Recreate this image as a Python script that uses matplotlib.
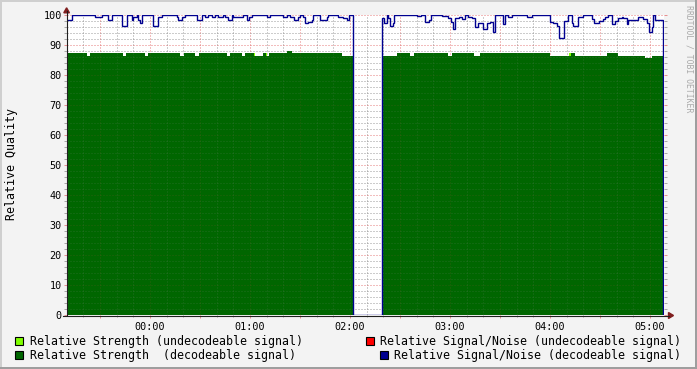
import numpy as np
import matplotlib
matplotlib.use('Agg')
import matplotlib.pyplot as plt
from matplotlib.patches import Rectangle, Polygon
from matplotlib.lines import Line2D

# ---------------- data (time in minutes relative to 00:00) ----------------
snr_t = [-50, -47, -33, -29, -25, -23, -17, -14, -11, -10, -8, -7, -6, -5, 1.5, 5, 7,
         16, 17, 19, 21, 28, 31, 33, 35, 37, 39, 41, 44, 45, 47, 49, 50, 56, 58, 59.5,
         61, 70, 72, 80, 82, 84, 86.5, 89, 90, 92, 93, 95, 97, 98, 102, 106, 107, 113,
         116, 118, 119.5, 122, 139, 140.5, 142, 143, 144, 145.5, 146.5, 160, 162.5, 165,
         167.5, 168.5, 175, 179, 180.5, 181.5, 183, 185.5, 187, 189, 191, 193, 195, 197,
         198, 200, 202, 204, 205.5, 207, 212, 213, 215, 217, 226, 229, 240, 242, 244,
         245.5, 248.5, 251, 253, 254, 257, 260, 265, 266.5, 269.5, 272, 273, 275, 277,
         279, 281, 283, 284, 286, 287, 293, 296, 298, 299.5, 301, 302, 303, 308]
snr_v = [98.5, 100, 99.2, 100, 98.3, 100, 96.4, 100, 98.3, 99.2, 100, 98.3, 97.2, 100, 96.4, 99.2, 100,
         99.2, 98.3, 99.2, 100, 98.3, 100, 99.4, 100, 99.4, 100, 99.4, 100, 99.4, 98.3, 100, 99.4, 100, 98.3, 99.4,
         100, 99.4, 100, 99.4, 100, 99.4, 98.3, 99.4, 100, 99.4, 97.3, 97.8, 98.5, 100, 98.3, 99.2, 100, 99.4,
         99.0, 98.3, 100, 0, 98.9, 97.3, 100, 99.0, 96.2, 97.5, 100, 99.6, 100, 97.7,
         98.5, 100, 99.6, 98.9, 97.7, 95.3, 98.9, 99.2, 98.7, 100, 99.5, 99.0, 95.9, 97.5,
         97.3, 95.5, 97.3, 97.8, 94.2, 100, 97.0, 100, 99.5, 100, 99.5, 100, 97.7, 97.2, 96.5,
         92.2, 98.1, 100, 97.5, 96.2, 99.5, 100, 98.7, 97.2, 98.1, 98.7, 99.5, 100, 97.0,
         98.1, 98.9, 99.5, 98.9, 97.0, 98.5, 99.4, 98.6, 97.5, 94.2, 96.0, 100, 98.5, 0]

str_t = [-50, -38, -36, -16, -14.5, -3, -1, 18, 20.5, 27, 29.5, 46, 48, 55, 57, 62.5, 68,
         69.5, 71.5, 82, 85, 115, 122, 139, 148, 156, 158.5, 179, 181, 194.5, 198, 240,
         252.5, 255, 274, 281, 297, 301, 308]
str_v = [87.3, 86.4, 87.3, 86.4, 87.3, 86.4, 87.3, 86.4, 87.3, 86.4, 87.3, 86.4, 87.3, 86.4,
         87.3, 86.4, 87.3, 86.4, 87.3, 88.1, 87.3, 86.4, 0, 86.4, 87.3, 86.4, 87.3, 86.4,
         87.3, 86.4, 87.3, 86.4, 87.3, 86.4, 87.3, 86.4, 85.6, 86.4, 0]

undec_t = [62, 69, 251.5]
undec_v = [87.3, 87.3, 87.3]
undec_w = 1.0

x_hours = [0, 60, 120, 180, 240, 300]
x_labels = ["00:00", "01:00", "02:00", "03:00", "04:00", "05:00"]
y_ticks = list(range(0, 101, 10))

legend_labels = ["Relative Strength (undecodeable signal)",
                 "Relative Strength  (decodeable signal)",
                 "Relative Signal/Noise (undecodeable signal)",
                 "Relative Signal/Noise (decodeable signal)"]

# ---------------- style ----------------
C_LIME = '#80ff00'
C_GREEN = '#006600'
C_RED = '#ff0000'
C_BLUE = '#000090'
GRID = (0.56, 0.56, 0.56, 0.75)
MGRID = (0.87, 0.31, 0.31, 0.6)
ARROW = (0.5, 0.12, 0.12)
AXISC = (0.12, 0.12, 0.12)
MONO = 'DejaVu Sans Mono'

W, H = 697, 369
fig = plt.figure(figsize=(W / 100, H / 100), dpi=100)
fig.patch.set_facecolor('#f3f3f3')

def fx(x):
    return x / W

def fy(y):
    return 1 - y / H

X0, X1, Y0, Y1 = 67, 664, 15, 315
ax = fig.add_axes([fx(X0), fy(Y1), (X1 - X0) / W, (Y1 - Y0) / H])
ax.set_facecolor('white')
ax.set_xlim(-49.8, 308.4)
ax.set_ylim(0, 100)
for s in ax.spines.values():
    s.set_visible(False)

# areas
st = list(str_t) + [308.4]
sv = list(str_v) + [str_v[-1]]
for t, v in zip(undec_t, undec_v):
    ax.bar(t, v, width=undec_w, align='edge', color=C_LIME, linewidth=0, zorder=1)
ax.fill_between(st, sv, 0, step='post', color=C_GREEN, linewidth=0, zorder=2)

# grid: full colour under the areas, faint copy over them
dash = (0, (1, 2))
def grid_lines(alpha_scale, z):
    for m in np.arange(-40, 301, 10):
        c = MGRID if m % 30 == 0 else GRID
        c = (c[0], c[1], c[2], c[3] * alpha_scale)
        ax.axvline(m, color=c, lw=0.72, ls=dash, zorder=z)
    for yv in np.arange(2, 101, 2):
        c = MGRID if yv % 10 == 0 else GRID
        c = (c[0], c[1], c[2], c[3] * alpha_scale)
        ax.axhline(yv, color=c, lw=0.72, ls=dash, zorder=z)

grid_lines(1.0, 0.5)
grid_lines(0.3, 3)

# SNR line
tt = list(snr_t) + [308.4]
vv = list(snr_v) + [snr_v[-1]]
ax.plot(tt, vv, drawstyle='steps-post', color=C_BLUE, lw=1.0, zorder=4,
        solid_joinstyle='miter')

# ticks
ax.set_yticks(y_ticks)
ax.set_yticks(np.arange(0, 101, 2), minor=True)
ax.set_yticklabels([str(v) for v in y_ticks], fontfamily=MONO, fontsize=7.3)
ax.set_xticks(np.arange(-30, 301, 30))
ax.set_xticklabels([x_labels[x_hours.index(m)] if m in x_hours else '' for m in np.arange(-30, 301, 30)],
                   fontfamily=MONO, fontsize=7.3)
ax.set_xticks(np.arange(-40, 301, 10), minor=True)
ax.tick_params(axis='y', which='major', direction='out', length=2.2, width=0.72,
               color=MGRID, left=True, right=True, pad=1.5)
ax.tick_params(axis='y', which='minor', direction='out', length=2.2, width=0.72,
               color=GRID, left=True, right=True)
ax.tick_params(axis='x', which='major', direction='out', length=2.2, width=0.72,
               color=MGRID, bottom=True, pad=2.5)
ax.tick_params(axis='x', which='minor', direction='out', length=1.5, width=0.72,
               color=GRID, bottom=True)

# axis lines and arrows
fig.add_artist(Line2D([fx(66.5), fx(66.5)], [fy(315), fy(11)], color=AXISC, lw=0.8,
                      transform=fig.transFigure))
fig.add_artist(Line2D([fx(63), fx(669)], [fy(315.5), fy(315.5)], color=AXISC, lw=0.8,
                      transform=fig.transFigure))
fig.add_artist(Polygon([[fx(63.8), fy(12.8)], [fx(69.4), fy(12.8)], [fx(66.6), fy(7.8)]],
                       closed=True, color=ARROW, transform=fig.transFigure))
fig.add_artist(Polygon([[fx(668.5), fy(312.5)], [fx(668.5), fy(318.5)], [fx(673.5), fy(315.5)]],
                       closed=True, color=ARROW, transform=fig.transFigure))

# y label
fig.text(fx(12), fy(164.5), "Relative Quality", rotation=90, ha='center', va='center',
         fontfamily=MONO, fontsize=8.4)

# watermark
fig.text(fx(688.5), fy(5), "RRDTOOL / TOBI OETIKER", rotation=270, ha='center', va='top',
         fontfamily=MONO, fontsize=5.9, color=(0, 0, 0, 0.3))

# legend
legend_colors = [C_LIME, C_GREEN, C_RED, C_BLUE]
box_pos = [(15, 337), (15, 351), (366, 337), (379.5, 351)]
text_pos = [(30, 345), (30, 359), (380, 345), (394, 359)]
for lab, col, (bx, by), (tx, ty) in zip(legend_labels, legend_colors, box_pos, text_pos):
    fig.add_artist(Rectangle((fx(bx), fy(by + 8)), 8 / W, 8 / H, facecolor=col,
                             edgecolor='black', lw=0.8, transform=fig.transFigure))
    fig.text(fx(tx), fy(ty), lab, ha='left', va='baseline', fontfamily=MONO, fontsize=8.42)

# 3D frame
fig.add_artist(Rectangle((0, fy(2)), 1, 2 / H, facecolor='#cfcfcf', lw=0, transform=fig.transFigure))
fig.add_artist(Rectangle((0, 0), 2 / W, 1, facecolor='#cfcfcf', lw=0, transform=fig.transFigure))
fig.add_artist(Rectangle((0, 0), 1, 2 / H, facecolor='#9e9e9e', lw=0, transform=fig.transFigure))
fig.add_artist(Rectangle((1 - 2 / W, 0), 2 / W, 1, facecolor='#9e9e9e', lw=0, transform=fig.transFigure))

fig.savefig('out.png', dpi=100, facecolor=fig.get_facecolor())
